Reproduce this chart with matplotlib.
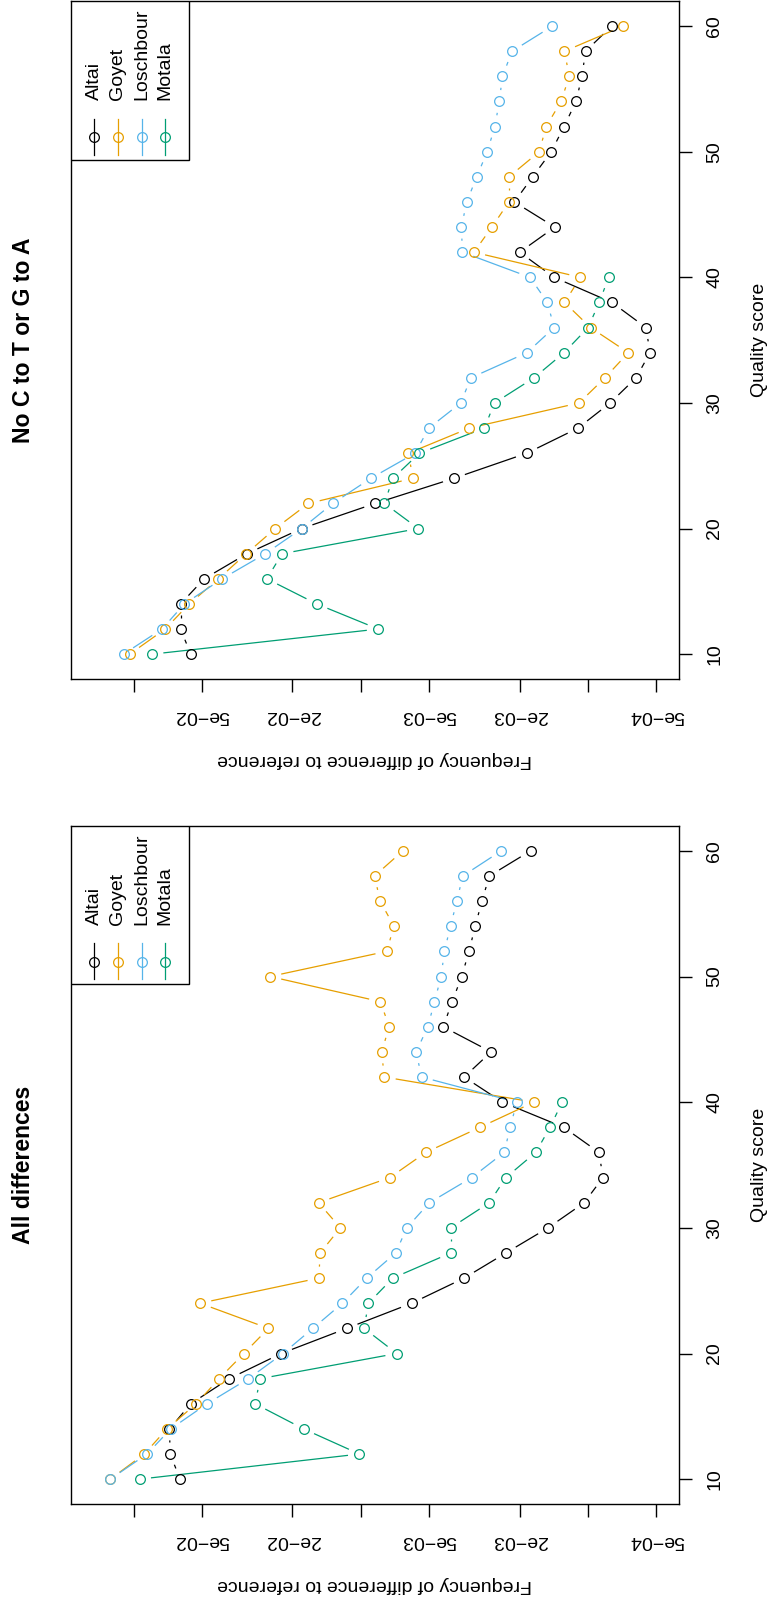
import numpy as np
import matplotlib
matplotlib.use("Agg")
import matplotlib.pyplot as plt
from matplotlib.collections import LineCollection
from matplotlib.patches import Rectangle

plt.rcParams["font.family"] = ["Liberation Sans", "DejaVu Sans"]

# ---- data -------------------------------------------------------------
quality = [10, 12, 14, 16, 18, 20, 22, 24, 26, 28, 30, 32, 34,
           36, 38, 40, 42, 44, 46, 48, 50, 52, 54, 56, 58, 60]
quality_motala = [10, 12, 14, 16, 18, 20, 22, 24, 26, 28, 30, 32, 34, 36, 38, 40]

samples = ["Altai", "Goyet", "Loschbour", "Motala"]
colors = ["#000000", "#E69F00", "#56B4E9", "#009E73"]
panel_titles = ["All differences", "No C to T or G to A"]

# all differences
all_altai = [0.0624, 0.069, 0.0695, 0.056, 0.0379, 0.0224, 0.01153, 0.00597, 0.00351,
             0.0023, 0.0015, 0.00104, 0.00086, 0.000895, 0.00128, 0.00238, 0.00351,
             0.00267, 0.00434, 0.00396, 0.0036, 0.00334, 0.00314, 0.00293, 0.00272, 0.00179]
all_goyet = [0.1266, 0.0897, 0.0713, 0.053, 0.042, 0.0327, 0.0255, 0.051, 0.0153,
             0.0151, 0.0123, 0.01535, 0.00745, 0.00518, 0.00299, 0.00173, 0.00788,
             0.0081, 0.0075, 0.0082, 0.0251, 0.00769, 0.00715, 0.00822, 0.0087, 0.00653]
all_loschbour = [0.1266, 0.0873, 0.0686, 0.0475, 0.0312, 0.022, 0.01625, 0.01205, 0.00942,
                 0.00702, 0.00628, 0.00499, 0.00325, 0.00234, 0.0022, 0.00206, 0.0054,
                 0.00571, 0.00507, 0.00474, 0.00443, 0.00429, 0.00403, 0.00378, 0.00356, 0.00241]
all_motala = [0.0941, 0.01014, 0.01786, 0.0292, 0.0277, 0.00695, 0.00967, 0.00926,
              0.00723, 0.00402, 0.00402, 0.00272, 0.0023, 0.0017, 0.00147, 0.0013]

# excluding C->T and G->A
noct_altai = [0.056, 0.0621, 0.0621, 0.0489, 0.0317, 0.01823, 0.00865, 0.00389, 0.00186,
              0.001107, 0.0008, 0.000615, 0.000534, 0.000556, 0.000785, 0.00141, 0.002,
              0.0014, 0.00211, 0.001754, 0.001452, 0.001276, 0.00113, 0.001064, 0.001026, 0.000787]
noct_goyet = [0.104, 0.0726, 0.0569, 0.0423, 0.0319, 0.0238, 0.01699, 0.0059, 0.00617,
              0.00333, 0.001096, 0.000843, 0.000665, 0.000975, 0.00127, 0.00108, 0.00318,
              0.00265, 0.00223, 0.00223, 0.00164, 0.00153, 0.001315, 0.00121, 0.00127, 0.0007]
noct_loschbour = [0.1107, 0.075, 0.0597, 0.0408, 0.0263, 0.0182, 0.01328, 0.00904, 0.00577,
                  0.00502, 0.00363, 0.00328, 0.00186, 0.00141, 0.00151, 0.0018, 0.00357,
                  0.00361, 0.00342, 0.00309, 0.00278, 0.00257, 0.00246, 0.00238, 0.00216, 0.001436]
noct_motala = [0.083, 0.00838, 0.01563, 0.0259, 0.0222, 0.00558, 0.00787, 0.00723,
               0.00552, 0.00286, 0.00258, 0.00173, 0.001276, 0.001, 0.000893, 0.000812]

freq_ticks = [1e-1, 5e-2, 2e-2, 1e-2, 5e-3, 2e-3, 1e-3, 5e-4]
freq_labels = ["", "5e\u221202", "2e\u221202", "", "5e\u221203", "2e\u221203", "", "5e\u221204"]
freq_range = (5e-4, 0.15)
quality_ticks = [10, 20, 30, 40, 50, 60]
quality_range = (10, 60)

# ---- figure -------------------------------------------------------------
W, H = 771, 1607
DPI = 100
fig = plt.figure(figsize=(W / DPI, H / DPI), dpi=DPI)
fig.patch.set_facecolor("white")

FS = 14
LW = 0.9
GAP = 11.5  # px left open around each point on the connecting lines


def add_panel(left, top, right, bottom):
    return fig.add_axes([left / W, 1 - bottom / H, (right - left) / W, (bottom - top) / H])


def draw_series(ax, q, f, color):
    pts = ax.transData.transform(np.column_stack([f, q]))
    inv = ax.transData.inverted()
    segs = []
    for p1, p2 in zip(pts[:-1], pts[1:]):
        d = p2 - p1
        L = np.hypot(*d)
        if L > 2 * GAP:
            u = d / L
            a = inv.transform(p1 + u * GAP)
            b = inv.transform(p2 - u * GAP)
            segs.append([a, b])
    ax.add_collection(LineCollection(segs, colors=color, linewidths=LW, zorder=2))
    ax.plot(f, q, "o", mfc="none", mec=color, ms=7, mew=LW, zorder=3)


def setup_panel(ax, title, series):
    axw = ax.get_position().width * W
    axh = ax.get_position().height * H

    ax.set_xscale("log")
    lo, hi = np.log10(freq_range[0]), np.log10(freq_range[1])
    pad = 0.04 * (hi - lo)
    ax.set_xlim(10 ** (hi + pad), 10 ** (lo - pad))
    qpad = 0.04 * (quality_range[1] - quality_range[0])
    ax.set_ylim(quality_range[0] - qpad, quality_range[1] + qpad)

    ax.yaxis.tick_right()
    ax.set_xticks(freq_ticks)
    ax.set_xticklabels([""] * len(freq_ticks))
    ax.xaxis.set_minor_locator(matplotlib.ticker.NullLocator())
    ax.set_yticks(quality_ticks)
    ax.set_yticklabels([""] * len(quality_ticks))
    ax.tick_params(axis="both", direction="out", length=9.1, width=1.0, color="black")
    for s in ax.spines.values():
        s.set_linewidth(1.0)
        s.set_color("black")

    # tick labels
    for v, lab in zip(freq_ticks, freq_labels):
        if lab:
            ax.text(v, -36 / axh, lab, transform=ax.get_xaxis_transform(), rotation=180,
                    ha="center", va="center", fontsize=FS)
    for q in quality_ticks:
        ax.text(1 + 36 / axw, q, str(q), transform=ax.get_yaxis_transform(), rotation=90,
                ha="center", va="center", fontsize=FS)

    # axis titles and panel title
    ax.text(0.5, -80 / axh, "Frequency of difference to reference", transform=ax.transAxes,
            rotation=180, ha="center", va="center", fontsize=FS)
    ax.text(1 + 80.5 / axw, 0.5, "Quality score", transform=ax.transAxes,
            rotation=90, ha="center", va="center", fontsize=FS)
    ax.text(-(71 - 23.5) / axw, 0.5, title, transform=ax.transAxes, rotation=90,
            ha="center", va="center", fontsize=16.6, fontweight="bold")

    for (q, f), name, col in zip(series, samples, colors):
        draw_series(ax, q, f, col)

    # legend
    box_w, box_h = 117.7, 158.6
    ax.add_patch(Rectangle((0, 1 - box_h / axh), box_w / axw, box_h / axh,
                           transform=ax.transAxes, facecolor="white", edgecolor="black",
                           linewidth=1.0, zorder=5))
    for i, (name, col) in enumerate(zip(samples, colors)):
        x = (23.3 + 23.6 * i) / axw
        ax.plot([x, x], [1 - 117.6 / axh, 1 - 153.6 / axh], color=col, lw=LW,
                transform=ax.transAxes, zorder=6, clip_on=False)
        ax.plot([x], [1 - 136 / axh], "o", mfc="none", mec=col, ms=7, mew=LW,
                transform=ax.transAxes, zorder=7, clip_on=False)
        ax.text(x, 1 - 99.3 / axh, name, transform=ax.transAxes, rotation=90,
                rotation_mode="anchor", ha="left", va="center", fontsize=FS, zorder=7)


ax_all = add_panel(71, 825.7, 679, 1504.3)
setup_panel(ax_all, panel_titles[0], [
    (quality, all_altai), (quality, all_goyet),
    (quality, all_loschbour), (quality_motala, all_motala)])

ax_noct = add_panel(71, 1.0, 679, 679.3)
setup_panel(ax_noct, panel_titles[1], [
    (quality, noct_altai), (quality, noct_goyet),
    (quality, noct_loschbour), (quality_motala, noct_motala)])

fig.savefig("out.png", dpi=DPI, facecolor="white")
